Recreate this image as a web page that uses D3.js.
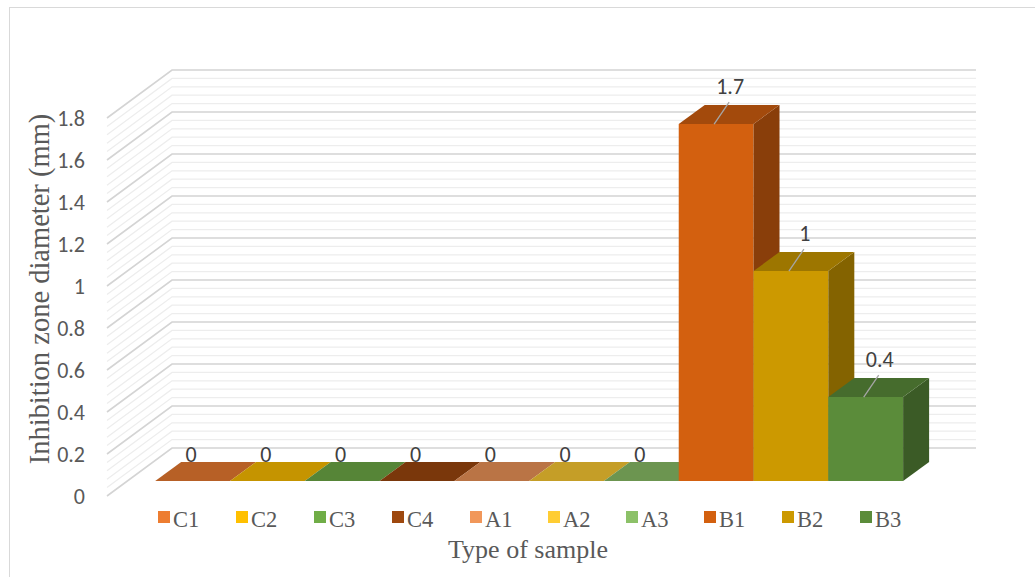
<!DOCTYPE html>
<html>
<head>
<meta charset="utf-8">
<script src="https://cdn.jsdelivr.net/npm/d3@7"></script>
<style>
  html, body { margin: 0; padding: 0; background: #fff; }
  svg { display: block; }
</style>
</head>
<body>
<svg id="chart" width="1035" height="577"></svg>
<script>
// data
const categories = ["C1", "C2", "C3", "C4", "A1", "A2", "A3", "B1", "B2", "B3"];
const values = [0, 0, 0, 0, 0, 0, 0, 1.7, 1, 0.4];
const colors = ["#ED7D31", "#FFC000", "#70AD47", "#9E480E", "#F1975A",
                "#FFCD33", "#8CC168", "#D3600F", "#CC9900", "#5B8C3A"];
const yTickLabels = ["0", "0.2", "0.4", "0.6", "0.8", "1", "1.2", "1.4", "1.6", "1.8"];
const yTickValues = yTickLabels.map(Number);

const svg = d3.select("#chart");

// layout of the 3D box (oblique projection)
const depthX = 65, depthY = -48;       // offset from front plane to back wall
const barZ0 = 0.31, barZ1 = 0.71;      // bar depth, fraction of the box depth

const y = d3.scaleLinear().domain([0, 1.8]).range([496, 118]);
const x = d3.scaleBand().domain(categories).range([107, 911])
  .paddingInner(0).paddingOuter(0.375);

const P = (px, v, z) => [px + z * depthX, y(v) + z * depthY];
const poly = pts => pts.map(p => p.join(",")).join(" ");

const sansFont = "Carlito, Calibri, 'Liberation Sans', sans-serif";
const serifFont = "'Liberation Serif', 'Times New Roman', serif";

// chart frame
svg.append("rect")
  .attr("x", 9.5).attr("y", 7.5)
  .attr("width", 1100).attr("height", 700)
  .attr("fill", "none").attr("stroke", "#d9d9d9").attr("stroke-width", 1);

// gridlines: back wall + left side wall, minor every 0.04, major every 0.2
const minor = d3.range(46).map(i => i * 0.04);
const grid = svg.append("g");
minor.forEach((v, i) => {
  const major = i % 5 === 0;
  const stroke = major ? "#d4d4d4" : "#ededed";
  const sw = major ? 1.6 : 1.3;
  const a = P(x.range()[0], v, 0), b = P(x.range()[0], v, 1), c = P(x.range()[1], v, 1);
  grid.append("polyline")
    .attr("points", poly([a, b, c]))
    .attr("fill", "none").attr("stroke", stroke).attr("stroke-width", sw);
});

// y tick labels
svg.append("g").selectAll("text")
  .data(yTickValues)
  .join("text")
  .attr("x", 85)
  .attr("y", d => y(d) + 8)
  .attr("text-anchor", "end")
  .attr("font-family", sansFont)
  .attr("font-size", 22)
  .attr("fill", "#595959")
  .text((d, i) => yTickLabels[i]);

// bars, drawn left to right so neighbours overlap correctly
const bars = categories.map((c, i) => ({ cat: c, v: values[i], color: colors[i] }));
const barG = svg.append("g");
bars.forEach(d => {
  const x0 = x(d.cat), x1 = x(d.cat) + x.bandwidth();
  const base = d3.color(d.color);
  const g = barG.append("g");
  if (d.v > 0) {
    g.append("polygon")
      .attr("points", poly([P(x0, 0, barZ0), P(x1, 0, barZ0), P(x1, d.v, barZ0), P(x0, d.v, barZ0)]))
      .attr("fill", base.formatHex());
    g.append("polygon")
      .attr("points", poly([P(x1, 0, barZ0), P(x1, 0, barZ1), P(x1, d.v, barZ1), P(x1, d.v, barZ0)]))
      .attr("fill", base.darker(1.21).formatHex());
  }
  g.append("polygon")
    .attr("points", poly([P(x0, d.v, barZ0), P(x1, d.v, barZ0), P(x1, d.v, barZ1), P(x0, d.v, barZ1)]))
    .attr("fill", base.darker(0.73).formatHex());
});

// data labels
const labelG = svg.append("g")
  .attr("font-family", sansFont)
  .attr("font-size", 22)
  .attr("fill", "#404040");
bars.forEach(d => {
  const cx = x(d.cat) + x.bandwidth() / 2;
  const [fx, fy] = P(cx, d.v, barZ0);
  if (d.v > 0) {
    labelG.append("line")
      .attr("x1", fx - 2).attr("y1", fy)
      .attr("x2", fx + 13).attr("y2", fy - 22)
      .attr("stroke", "#a6a6a6").attr("stroke-width", 1.3);
    labelG.append("text")
      .attr("x", fx + 14).attr("y", fy - 30)
      .attr("text-anchor", "middle")
      .text(d.v);
  } else {
    const [, by] = P(cx, d.v, barZ1);
    labelG.append("text")
      .attr("x", fx - 1.5).attr("y", by)
      .attr("text-anchor", "middle")
      .text(d.v);
  }
});

// legend
const legend = svg.append("g").selectAll("g")
  .data(bars)
  .join("g")
  .attr("transform", (d, i) => `translate(${158 + i * 78},511)`);
legend.append("rect")
  .attr("width", 12).attr("height", 12)
  .attr("fill", d => d.color);
legend.append("text")
  .attr("x", 15).attr("y", 16)
  .attr("font-family", serifFont)
  .attr("font-size", 22.5)
  .attr("fill", "#595959")
  .text(d => d.cat);

// axis titles
svg.append("text")
  .attr("x", 528).attr("y", 558)
  .attr("text-anchor", "middle")
  .attr("font-family", serifFont)
  .attr("font-size", 26)
  .attr("fill", "#595959")
  .text("Type of sample");

svg.append("text")
  .attr("transform", "translate(49,289) rotate(-90)")
  .attr("text-anchor", "middle")
  .attr("font-family", serifFont)
  .attr("font-size", 28.5)
  .attr("fill", "#595959")
  .text("Inhibition zone diameter (mm)");
</script>
</body>
</html>
